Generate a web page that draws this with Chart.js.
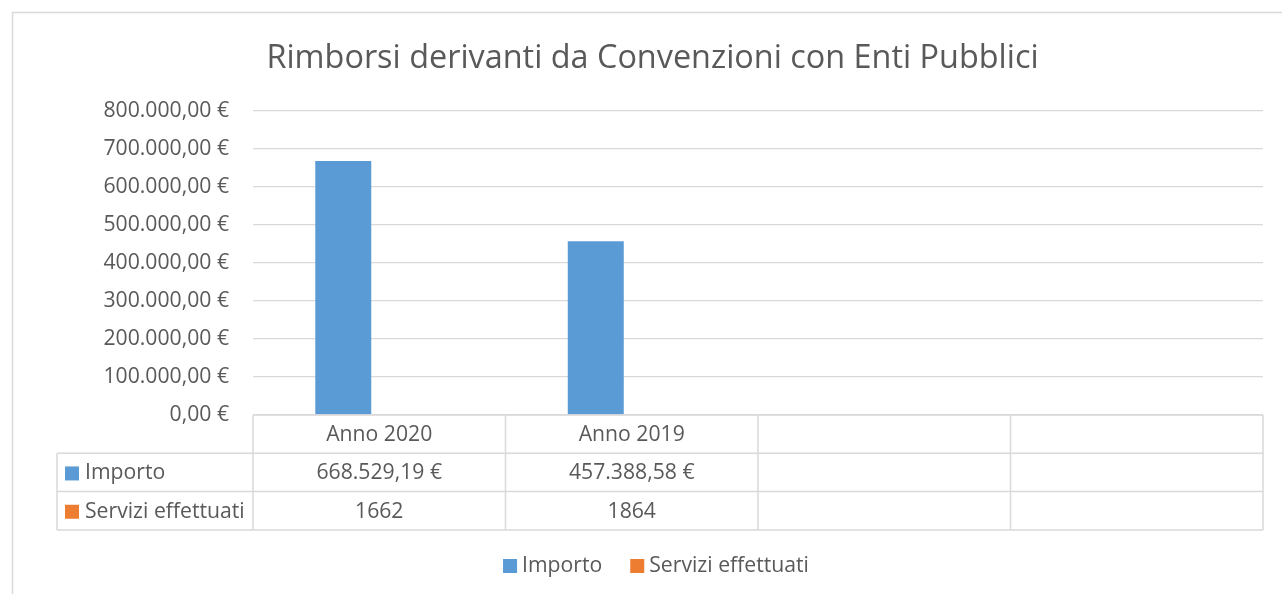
<!DOCTYPE html>
<html><head><meta charset="utf-8">
<script src="https://cdn.jsdelivr.net/npm/chart.js@4.4.1/dist/chart.umd.min.js"></script>
<style>html,body{margin:0;padding:0;background:#fff;overflow:hidden}#wrap{width:1282px;height:594px;position:relative}</style>
</head><body><div id="wrap"><canvas id="c" width="1282" height="594"></canvas></div>
<script>
const chartTitle = "Rimborsi derivanti da Convenzioni con Enti Pubblici";
const categories = ["Anno 2020", "Anno 2019", "", ""];
const seriesNames = ["Importo", "Servizi effettuati"];
const importo = [668529.19, 457388.58, null, null];
const servizi = [1662, 1864, null, null];
const yTickValues = [0, 100000, 200000, 300000, 400000, 500000, 600000, 700000, 800000];

const TEXT = '#595959', LINE = '#d9d9d9';
const BLUE = '#5B9BD5', ORANGE = '#ED7D31';
const FONT = '"Open Sans", sans-serif';

function fmtEuro(v) {
  const p = Math.abs(v).toFixed(2).split('.');
  return p[0].replace(/\B(?=(\d{3})+(?!\d))/g, '.') + ',' + p[1] + ' €';
}
function fmtInt(v) { return String(v); }
const rowFormats = [fmtEuro, fmtInt];

const decor = {
  id: 'decor',
  beforeDraw(chart) {
    const ctx = chart.ctx;
    ctx.save();
    ctx.fillStyle = '#fff';
    ctx.fillRect(0, 0, chart.width, chart.height);
    ctx.strokeStyle = LINE; ctx.lineWidth = 1.5;
    ctx.beginPath();
    ctx.moveTo(12.5, chart.height + 2); ctx.lineTo(12.5, 12.5); ctx.lineTo(chart.width + 2, 12.5);
    ctx.stroke();
    // title
    ctx.fillStyle = TEXT;
    ctx.font = '32.4px ' + FONT;
    ctx.textAlign = 'center'; ctx.textBaseline = 'middle';
    ctx.fillText(chartTitle, 652.5, 58.5);
    ctx.restore();
  },
  afterDraw(chart) {
    const ctx = chart.ctx, a = chart.chartArea, xs = chart.scales.x;
    const n = categories.length, w = a.width / n;
    const rowH = 38.3, top = a.bottom, leftCol = 57;
    const rows = [top, top + rowH, top + 2 * rowH, top + 3 * rowH];
    ctx.save();
    ctx.strokeStyle = LINE; ctx.lineWidth = 1.5;
    ctx.beginPath();
    ctx.moveTo(a.left, rows[0]); ctx.lineTo(a.right, rows[0]);
    for (let r = 1; r < 4; r++) { ctx.moveTo(leftCol, rows[r]); ctx.lineTo(a.right, rows[r]); }
    ctx.moveTo(leftCol, rows[1]); ctx.lineTo(leftCol, rows[3]);
    for (let i = 0; i <= n; i++) {
      const x = a.left + i * w;
      ctx.moveTo(x, rows[0]); ctx.lineTo(x, rows[3]);
    }
    ctx.stroke();
    ctx.fillStyle = TEXT;
    ctx.font = '21.2px ' + FONT;
    ctx.textBaseline = 'middle'; ctx.textAlign = 'center';
    categories.forEach((c, i) => {
      ctx.fillText(c, xs.getPixelForValue(i), (rows[0] + rows[1]) / 2 + 1);
    });
    chart.data.datasets.forEach((ds, r) => {
      const cy = (rows[r + 1] + rows[r + 2]) / 2 + 1;
      ctx.textAlign = 'center'; ctx.fillStyle = TEXT;
      ds.data.forEach((v, i) => {
        if (v === null || v === undefined) return;
        ctx.fillText(rowFormats[r](v), xs.getPixelForValue(i), cy);
      });
      ctx.fillStyle = ds.backgroundColor;
      ctx.fillRect(65, cy - 7, 14, 14);
      ctx.fillStyle = TEXT; ctx.textAlign = 'left';
      ctx.fillText(ds.label, 85, cy);
    });
    // legend
    const sq = 14, gap = 5, sep = 28, ly = 566;
    const widths = chart.data.datasets.map(ds => ctx.measureText(ds.label).width);
    let total = 0;
    widths.forEach((tw, i) => { total += sq + gap + tw + (i ? sep : 0); });
    let x = 656 - total / 2;
    chart.data.datasets.forEach((ds, i) => {
      ctx.fillStyle = ds.backgroundColor;
      ctx.fillRect(x, ly - 7, sq, sq);
      ctx.fillStyle = TEXT; ctx.textAlign = 'left';
      ctx.fillText(ds.label, x + sq + gap, ly);
      x += sq + gap + widths[i] + sep;
    });
    ctx.restore();
  }
};

new Chart(document.getElementById('c'), {
  type: 'bar',
  data: {
    labels: categories,
    datasets: [
      { label: seriesNames[0], data: importo, backgroundColor: BLUE, barPercentage: 0.778, categoryPercentage: 0.57 },
      { label: seriesNames[1], data: servizi, backgroundColor: ORANGE, barPercentage: 0.778, categoryPercentage: 0.57 }
    ]
  },
  options: {
    responsive: false, animation: false, devicePixelRatio: 1,
    layout: { padding: { left: 0, right: 19, top: 111, bottom: 179 } },
    plugins: { legend: { display: false }, title: { display: false }, tooltip: { enabled: false } },
    scales: {
      x: { display: false },
      y: {
        min: 0, max: 800000,
        afterBuildTicks(s) { s.ticks = yTickValues.map(v => ({ value: v })); },
        afterFit(s) { s.width = 253; },
        border: { display: false },
        grid: { color: LINE, lineWidth: 1.3, drawTicks: false },
        ticks: { color: TEXT, font: { family: FONT, size: 21.2 }, padding: 24, callback: v => fmtEuro(v) }
      }
    }
  },
  plugins: [decor]
});
</script></body></html>
